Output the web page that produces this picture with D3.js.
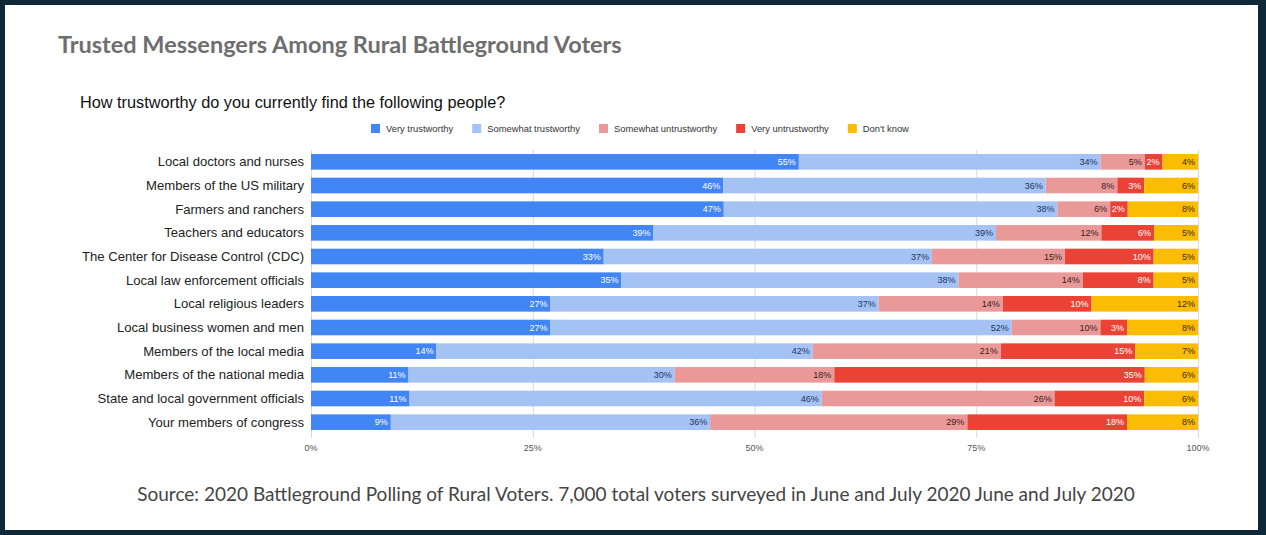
<!DOCTYPE html>
<html>
<head>
<meta charset="utf-8">
<script src="https://cdn.jsdelivr.net/npm/d3@7"></script>
<style>
body { margin: 0; background: #0c2839; }
svg { display: block; }
</style>
</head>
<body>
<div id="chart"></div>
<script>
// data
var people = ["Local doctors and nurses", "Members of the US military", "Farmers and ranchers",
    "Teachers and educators", "The Center for Disease Control (CDC)", "Local law enforcement officials",
    "Local religious leaders", "Local business women and men", "Members of the local media",
    "Members of the national media", "State and local government officials", "Your members of congress"];
var answers = ["Very trustworthy", "Somewhat trustworthy", "Somewhat untrustworthy", "Very untrustworthy", "Don't know"];
var veryTrust = [55, 46, 47, 39, 33, 35, 27, 27, 14, 11, 11, 9];
var somewhatTrust = [34, 36, 38, 39, 37, 38, 37, 52, 42, 30, 46, 36];
var somewhatUntrust = [5, 8, 6, 12, 15, 14, 14, 10, 21, 18, 26, 29];
var veryUntrust = [2, 3, 2, 6, 10, 8, 10, 3, 15, 35, 10, 18];
var dontKnow = [4, 6, 8, 5, 5, 5, 12, 8, 7, 6, 6, 8];
var ticks = [0, 0.25, 0.5, 0.75, 1];

var colors = ["#4285f4", "#a4c2f4", "#ea9999", "#ea4335", "#fbbc04"];
var labelColors = ["#ffffff", "#1c3561", "#3a2020", "#ffffff", "#3a2a00"];

var W = 1266, H = 535;
var svg = d3.select("#chart").append("svg").attr("width", W).attr("height", H);

// white card inside the dark frame
svg.append("rect").attr("x", 5).attr("y", 5).attr("width", 1253).attr("height", 525).attr("fill", "#fff");

svg.append("text").attr("x", 58).attr("y", 53)
    .text("Trusted Messengers Among Rural Battleground Voters")
    .style("font-family", "Lato").style("font-size", "23.5px").style("font-weight", "bold").style("fill", "#6e6e6e");

svg.append("text").attr("x", 80).attr("y", 108)
    .text("How trustworthy do you currently find the following people?")
    .style("font-family", "Liberation Sans, Arial").style("font-size", "16.3px").style("fill", "#111");

svg.append("text").attr("x", 636).attr("y", 501).attr("text-anchor", "middle")
    .text("Source: 2020 Battleground Polling of Rural Voters. 7,000 total voters surveyed in June and July 2020 June and July 2020")
    .style("font-family", "Lato").style("font-size", "19px").style("fill", "#444");

// build rows
var data = people.map(function(p, i) {
    return {
        name: p,
        "Very trustworthy": veryTrust[i],
        "Somewhat trustworthy": somewhatTrust[i],
        "Somewhat untrustworthy": somewhatUntrust[i],
        "Very untrustworthy": veryUntrust[i],
        "Don't know": dontKnow[i]
    };
});
var series = d3.stack().keys(answers).offset(d3.stackOffsetExpand)(data);

var x = d3.scaleLinear().domain([0, 1]).range([311, 1198]);
var y = d3.scaleBand().domain(people).range([150, 434]).paddingInner(0.34).paddingOuter(0.17);

// gridlines
svg.append("g").selectAll("line").data(ticks).enter().append("line")
    .attr("x1", function(d) { return x(d) + 0.5; })
    .attr("x2", function(d) { return x(d) + 0.5; })
    .attr("y1", 150).attr("y2", 438)
    .attr("stroke", "#d9d9d9");

// tick labels
svg.append("g").selectAll("text").data(ticks).enter().append("text")
    .attr("x", function(d) { return x(d); })
    .attr("y", 451).attr("text-anchor", "middle")
    .text(d3.format(".0%"))
    .style("font-family", "Liberation Sans, Arial").style("font-size", "9px").style("fill", "#555");

// bars
var layer = svg.append("g").selectAll("g").data(series).enter().append("g")
    .attr("fill", function(d, i) { return colors[i]; });

layer.selectAll("rect").data(function(d) { return d; }).enter().append("rect")
    .attr("x", function(d) { return x(d[0]); })
    .attr("y", function(d) { return y(d.data.name); })
    .attr("width", function(d) { return x(d[1]) - x(d[0]); })
    .attr("height", y.bandwidth());

// value labels at the end of each segment
svg.append("g").selectAll("g").data(series).enter().append("g")
    .each(function(s, i) {
        d3.select(this).selectAll("text").data(s).enter().append("text")
            .attr("x", function(d) { return x(d[1]) - 3; })
            .attr("y", function(d) { return y(d.data.name) + y.bandwidth() / 2; })
            .attr("dy", "0.35em").attr("text-anchor", "end")
            .text(function(d) { return d.data[s.key] + "%"; })
            .style("font-family", "Liberation Sans, Arial").style("font-size", "9px")
            .style("fill", labelColors[i]);
    });

// category labels
svg.append("g").selectAll("text").data(people).enter().append("text")
    .attr("x", 304)
    .attr("y", function(d) { return y(d) + y.bandwidth() / 2; })
    .attr("dy", "0.35em").attr("text-anchor", "end")
    .text(function(d) { return d; })
    .style("font-family", "Liberation Sans, Arial").style("font-size", "13.1px").style("fill", "#222");

// legend
var lx = 371;
answers.forEach(function(a, i) {
    svg.append("rect").attr("x", lx).attr("y", 124).attr("width", 9).attr("height", 9).attr("fill", colors[i]);
    var t = svg.append("text").attr("x", lx + 15).attr("y", 128.5).attr("dy", "0.35em")
        .text(a)
        .style("font-family", "Liberation Sans, Arial").style("font-size", "9.4px").style("fill", "#333");
    lx += 15 + t.node().getComputedTextLength() + 19;
});
</script>
</body>
</html>
